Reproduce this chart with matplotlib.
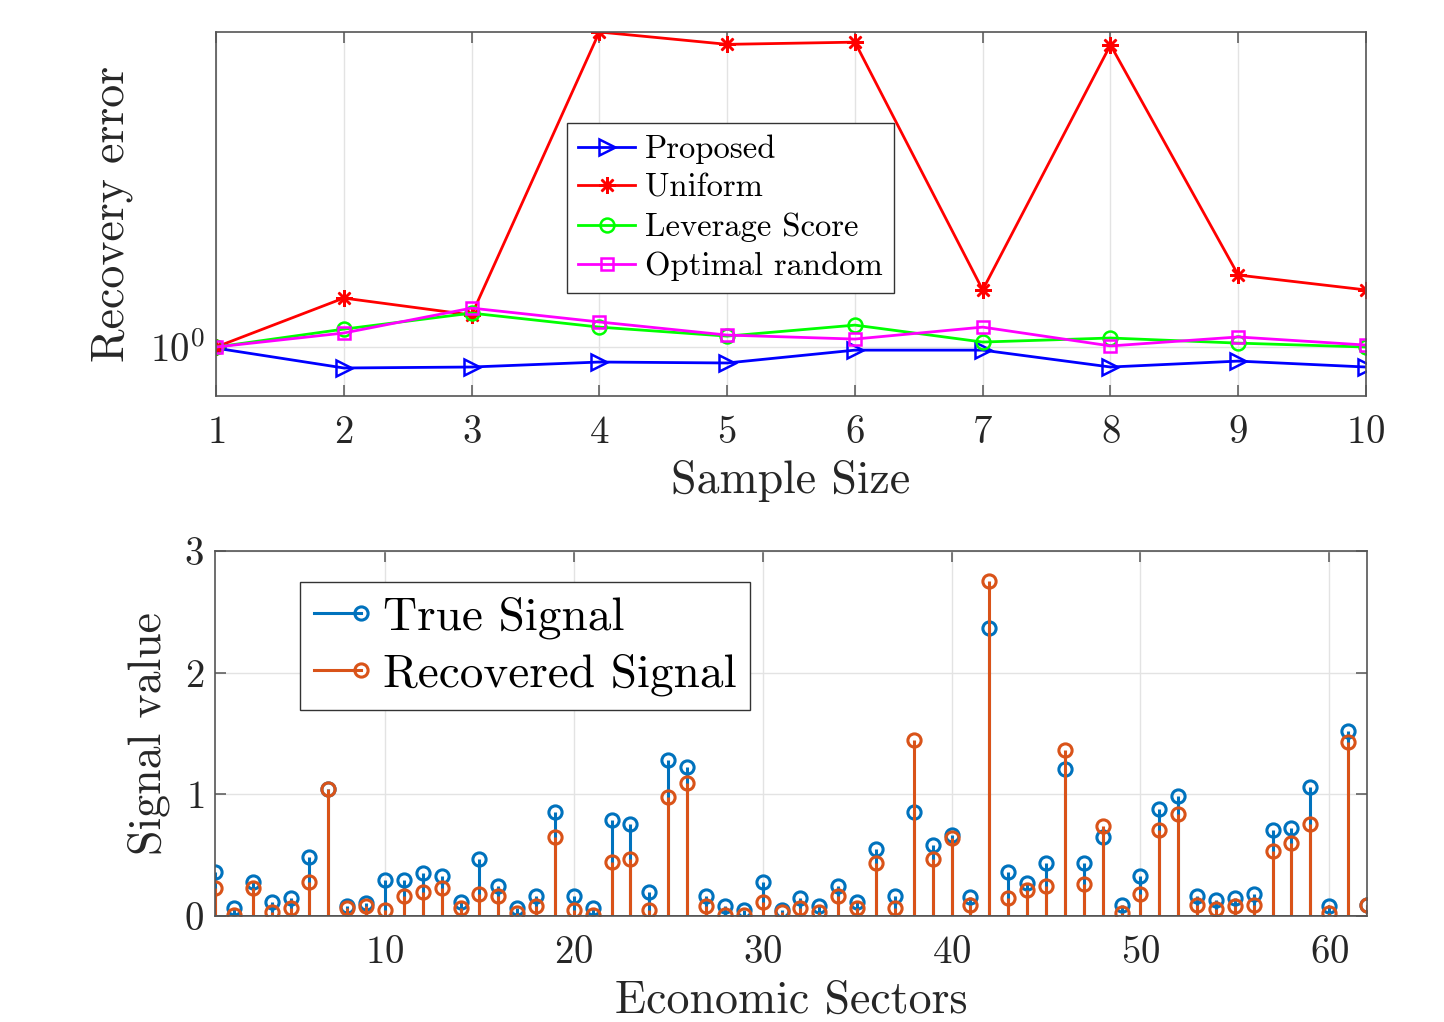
import numpy as np
import matplotlib
matplotlib.use("Agg")
import matplotlib.pyplot as plt
from matplotlib.lines import Line2D
from matplotlib.legend_handler import HandlerBase
from matplotlib.ticker import NullLocator, FixedLocator

plt.rcParams['font.family'] = ['cmr10', 'DejaVu Serif']
plt.rcParams['mathtext.fontset'] = 'cm'
plt.rcParams['axes.formatter.use_mathtext'] = True

# --- top panel: recovery error vs sample size
sample_size = [1, 2, 3, 4, 5, 6, 7, 8, 9, 10]
err_proposed = [0.995, 0.909, 0.913, 0.934, 0.930, 0.986, 0.986, 0.913, 0.938, 0.913]
err_uniform = [1.0, 1.25, 1.157, 4.2, 3.97, 4.01, 1.297, 3.96, 1.388, 1.297]
err_leverage = [1.0, 1.085, 1.167, 1.095, 1.051, 1.105, 1.023, 1.042, 1.018, 1.0]
err_optimal = [1.0, 1.066, 1.194, 1.121, 1.056, 1.037, 1.095, 1.005, 1.047, 1.009]

# --- bottom panel: signal per economic sector
sectors = list(range(1, 63))
true_signal = [0.364, 0.069, 0.277, 0.118, 0.145, 0.482, 1.041, 0.085, 0.104, 0.296,
               0.296, 0.351, 0.332, 0.118, 0.466, 0.249, 0.063, 0.164, 0.857, 0.164,
               0.070, 0.789, 0.756, 0.200, 1.282, 1.227, 0.164, 0.085, 0.049, 0.282,
               0.049, 0.145, 0.082, 0.249, 0.118, 0.551, 0.164, 0.857, 0.583, 0.665,
               0.153, 2.364, 0.364, 0.268, 0.433, 1.210, 0.433, 0.652, 0.093, 0.332,
               0.877, 0.989, 0.164, 0.131, 0.145, 0.181, 0.707, 0.720, 1.063, 0.085,
               1.520, 0.093]
recovered_signal = [0.227, 0.008, 0.233, 0.030, 0.063, 0.282, 1.041, 0.063, 0.085, 0.049,
                    0.164, 0.200, 0.233, 0.063, 0.181, 0.164, 0.027, 0.082, 0.652, 0.049,
                    0.008, 0.446, 0.468, 0.049, 0.975, 1.096, 0.082, 0.008, 0.008, 0.112,
                    0.030, 0.063, 0.030, 0.164, 0.063, 0.433, 0.063, 1.446, 0.468, 0.638,
                    0.093, 2.753, 0.145, 0.214, 0.247, 1.364, 0.263, 0.740, 0.027, 0.181,
                    0.707, 0.838, 0.093, 0.060, 0.082, 0.093, 0.534, 0.600, 0.756, 0.027,
                    1.433, 0.093]

AX_COLOR = '#555555'
TXT_COLOR = '#262626'
GRID_COLOR = '#e3e3e3'
MBLUE = '#0072BD'
MORANGE = '#D95319'


class EndMarkerHandler(HandlerBase):
    # matlab style stem legend: line with the marker at its right end
    def create_artists(self, legend, orig, xdescent, ydescent, width, height, fontsize, trans):
        y = (height - ydescent) / 2
        x0, x1 = -xdescent, -xdescent + width
        ln = Line2D([x0, x1], [y, y], color=orig.get_color(), lw=orig.get_linewidth())
        mk = Line2D([x1], [y], ls='none', marker='o', ms=orig.get_markersize(),
                    mfc='none', mec=orig.get_color(), mew=orig.get_markeredgewidth())
        ln.set_transform(trans)
        mk.set_transform(trans)
        return [ln, mk]


def style_axes(ax):
    for s in ax.spines.values():
        s.set_color(AX_COLOR)
        s.set_linewidth(1.2)
    ax.tick_params(direction='in', length=8, width=1.1, color=AX_COLOR,
                   labelcolor=TXT_COLOR, top=True, right=True)
    ax.grid(True, color=GRID_COLOR, lw=1.0)
    ax.set_axisbelow(True)


fig = plt.figure(figsize=(14.44, 10.22), dpi=100)

# top
ax1 = fig.add_axes([0.1496, 0.6125, 0.7964, 0.3562])
ax1.set_yscale('log')
ax1.plot(sample_size, err_proposed, color='#0000ff', lw=2.0, marker='>', ms=11,
         mfc='none', mew=1.8, label='Proposed')
ax1.plot(sample_size, err_uniform, color='#ff0000', lw=2.0, marker=(8, 2, 0), ms=12,
         mew=1.8, label='Uniform')
ax1.plot(sample_size, err_leverage, color='#00ff00', lw=2.0, marker='o', ms=10,
         mfc='none', mew=1.8, label='Leverage Score')
ax1.plot(sample_size, err_optimal, color='#ff00ff', lw=2.0, marker='s', ms=9,
         mfc='none', mew=1.8, label='Optimal random')
ax1.set_xlim(1, 10)
ax1.set_ylim(0.8, 4.2)
ax1.set_xticks(sample_size)
ax1.yaxis.set_major_locator(FixedLocator([1.0]))
ax1.yaxis.set_minor_locator(NullLocator())
style_axes(ax1)
ax1.tick_params(axis='x', labelsize=28, pad=14)
ax1.tick_params(axis='y', labelsize=28, pad=8)
ax1.set_xlabel('Sample Size', fontsize=33, color=TXT_COLOR, labelpad=6)
ax1.set_ylabel('Recovery error', fontsize=33, color=TXT_COLOR, labelpad=12)
leg1 = ax1.legend(loc='upper left', bbox_to_anchor=(0.305, 0.75), borderaxespad=0,
                  fontsize=23.5, fancybox=False, framealpha=1, edgecolor='#333333',
                  handlelength=1.75, handletextpad=0.3, labelspacing=0.3,
                  borderpad=0.35)
leg1.get_frame().set_linewidth(1.0)

# bottom
ax2 = fig.add_axes([0.1489, 0.1037, 0.7978, 0.3571])
st1 = ax2.stem(sectors, true_signal, linefmt='-', markerfmt='o', basefmt='-')
st2 = ax2.stem(sectors, recovered_signal, linefmt='-', markerfmt='o', basefmt='-')
for st, c in [(st1, MBLUE), (st2, MORANGE)]:
    st.stemlines.set_color(c)
    st.stemlines.set_linewidth(2.2)
    st.markerline.set_color(c)
    st.markerline.set_markerfacecolor('none')
    st.markerline.set_markersize(9.5)
    st.markerline.set_markeredgewidth(2.2)
    st.baseline.set_color(AX_COLOR)
    st.baseline.set_linewidth(1.2)
ax2.set_xlim(1, 62)
ax2.set_ylim(0, 3)
ax2.set_xticks([10, 20, 30, 40, 50, 60])
ax2.set_yticks([0, 1, 2, 3])
style_axes(ax2)
ax2.tick_params(axis='x', labelsize=28, pad=14)
ax2.tick_params(axis='y', labelsize=28, pad=8)
ax2.set_xlabel('Economic Sectors', fontsize=33, color=TXT_COLOR, labelpad=6)
ax2.set_ylabel('Signal value', fontsize=33, color=TXT_COLOR, labelpad=10)
h1 = Line2D([], [], color=MBLUE, lw=2.2, marker='o', ms=9.5, mfc='none', mew=2.2)
h2 = Line2D([], [], color=MORANGE, lw=2.2, marker='o', ms=9.5, mfc='none', mew=2.2)
leg2 = ax2.legend([h1, h2], ['True Signal', 'Recovered Signal'],
                  handler_map={h1: EndMarkerHandler(), h2: EndMarkerHandler()},
                  loc='upper left', bbox_to_anchor=(0.0738, 0.915), borderaxespad=0,
                  fontsize=34, fancybox=False, framealpha=1, edgecolor='#333333',
                  handlelength=1.0, handletextpad=0.45, labelspacing=0.3,
                  borderpad=0.3)
leg2.get_frame().set_linewidth(1.0)

fig.savefig('out.png', dpi=100)
